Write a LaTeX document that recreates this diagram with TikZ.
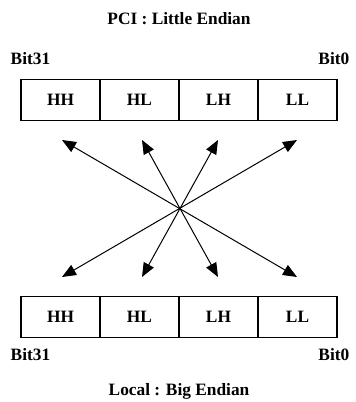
\documentclass[tikz,border=0pt]{standalone}
\usepackage{fontspec}
\setmainfont{Liberation Serif}
\usetikzlibrary{arrows.meta}
\begin{document}
\begin{tikzpicture}[
  x=0.75pt, y=-0.75pt,
  every node/.style={font=\fontsize{13}{15}\selectfont\bfseries},
  cell/.style={draw, line width=0.8pt, minimum width=79*0.75pt, minimum height=41*0.75pt, inner sep=0pt},
  arr/.style={{Triangle[length=10.5pt,width=8.5pt]}-{Triangle[length=10.5pt,width=8.5pt]}, line width=0.75pt}
]
\useasboundingbox (0,0) rectangle (355,402);
% titles and bit labels
\node (pci) at (179,19) {PCI : Little Endian};
\node[anchor=west] (tb31) at (6,59) {Bit31};
\node[anchor=east] (tb0) at (354,59) {Bit0};
\node[anchor=west] (bb31) at (6,355) {Bit31};
\node[anchor=east] (bb0) at (354,355) {Bit0};
\node (local) at (179,391) {Local : Big Endian};
% upper register
\node[cell] (phh) at (60.5,100) {HH};
\node[cell] (phl) at (139.5,100) {HL};
\node[cell] (plh) at (218.5,100) {LH};
\node[cell] (pll) at (297.5,100) {LL};
% lower register
\node[cell] (lhh) at (60.5,317) {HH};
\node[cell] (lhl) at (139.5,317) {HL};
\node[cell] (llh) at (218.5,317) {LH};
\node[cell] (lll) at (297.5,317) {LL};
% arrow ends
\coordinate (u1) at (62,140);
\coordinate (u2) at (142,140);
\coordinate (u3) at (218,140);
\coordinate (u4) at (297,140);
\coordinate (d1) at (62,277);
\coordinate (d2) at (142,277);
\coordinate (d3) at (218,277);
\coordinate (d4) at (297,277);
\draw[arr] (u1) -- (d4);
\draw[arr] (u2) -- (d3);
\draw[arr] (u3) -- (d2);
\draw[arr] (u4) -- (d1);
\end{tikzpicture}
\end{document}
